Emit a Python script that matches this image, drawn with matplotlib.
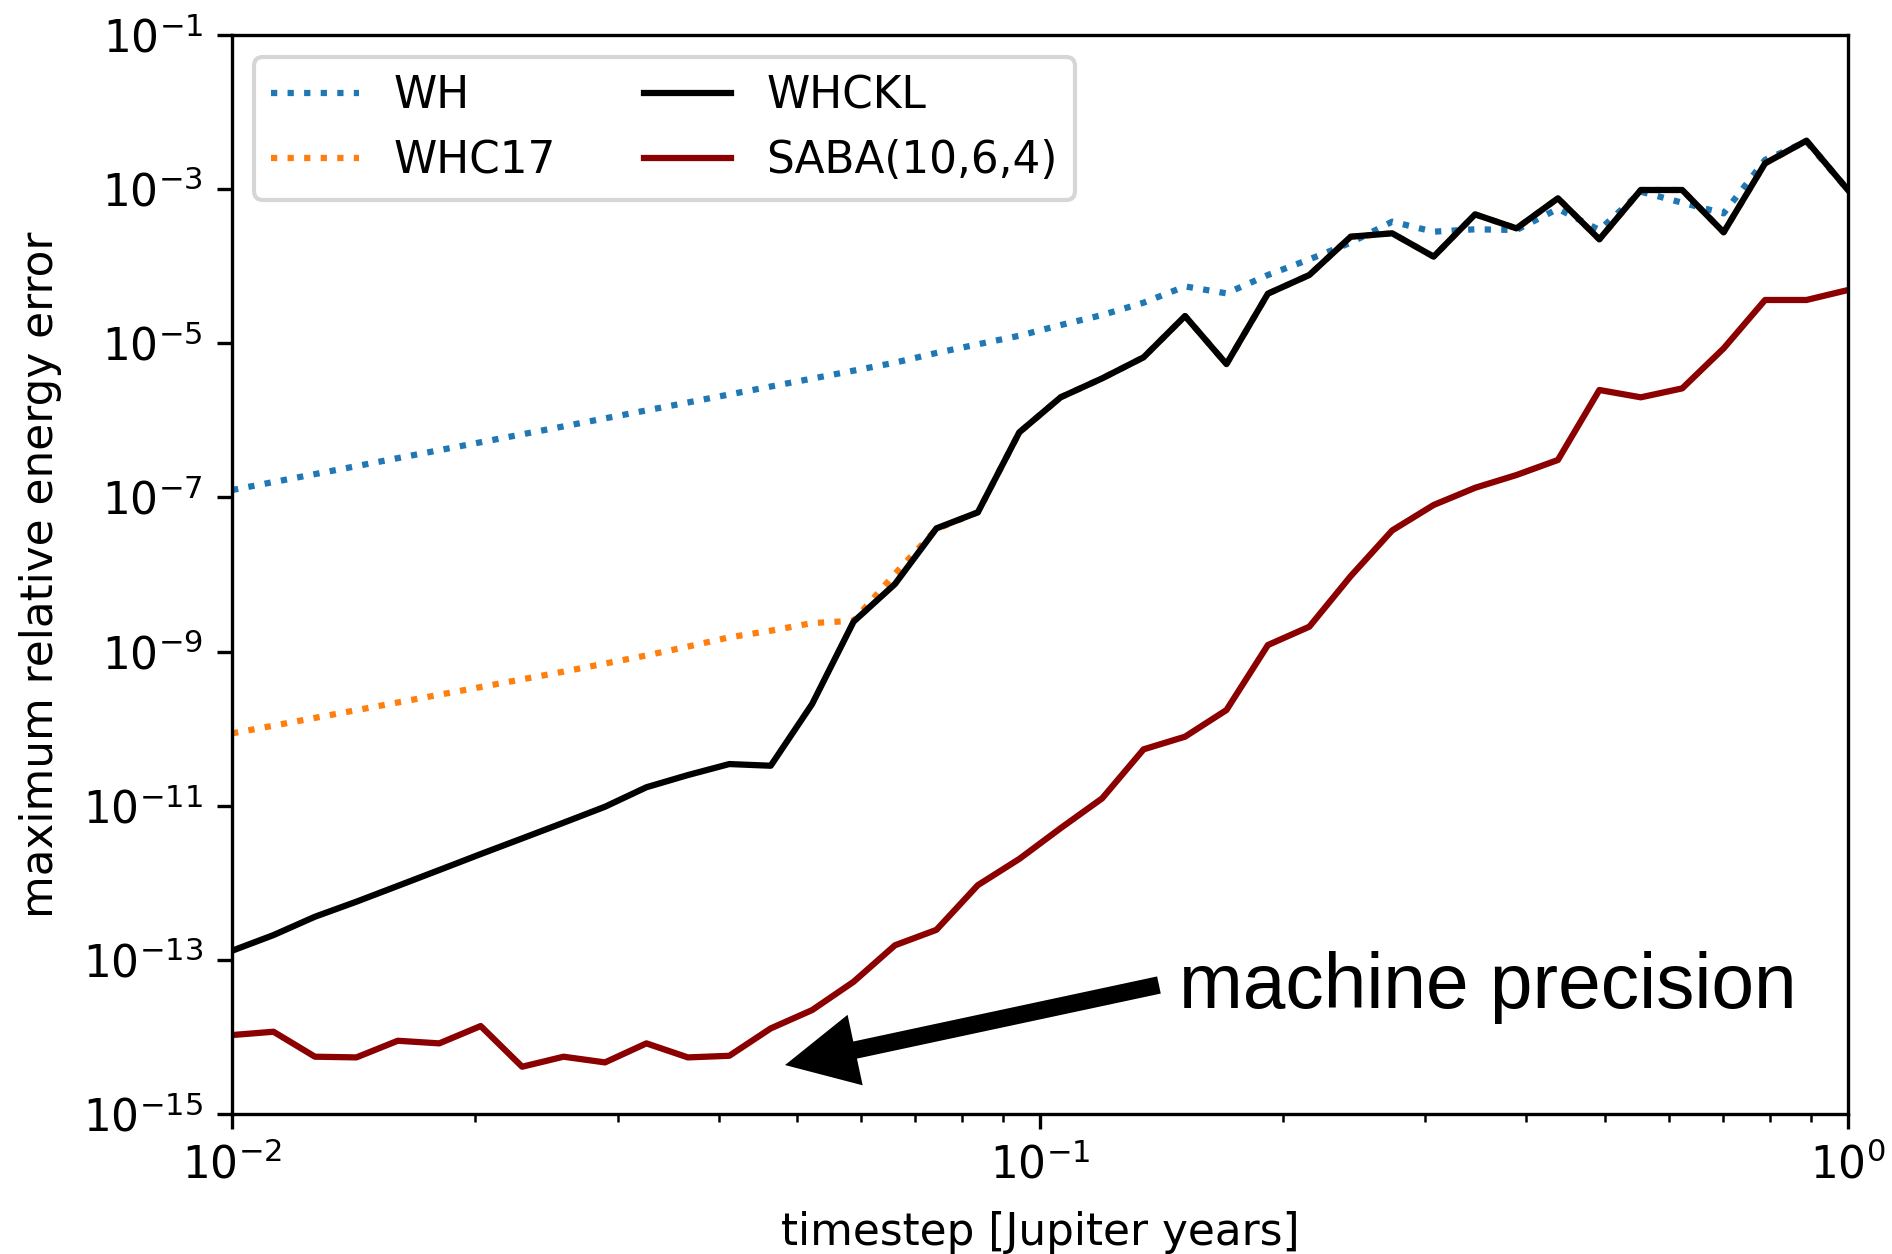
import numpy as np
import matplotlib
matplotlib.use("Agg")
import matplotlib.pyplot as plt
from matplotlib.ticker import FixedLocator, NullLocator

plt.rcParams["font.size"] = 10.5

# Timesteps in Jupiter years (40 log-spaced steps from 0.01 to 1)
timestep = [0.01, 0.011253, 0.012663, 0.014250, 0.016036, 0.018047, 0.020309,
            0.022855, 0.025719, 0.028943, 0.032571, 0.036654, 0.041249, 0.046416,
            0.052233, 0.058780, 0.066147, 0.074438, 0.083768, 0.094267, 0.10608,
            0.11938, 0.13434, 0.15118, 0.17013, 0.19145, 0.21544, 0.24245,
            0.27283, 0.30703, 0.34551, 0.38881, 0.43755, 0.49239, 0.55410,
            0.62355, 0.70170, 0.78966, 0.88862, 1.0]

# log10 of the maximum relative energy error for each integrator
log_err_wh = [-6.904, -6.800, -6.697, -6.594, -6.490, -6.387, -6.284, -6.181,
              -6.078, -5.974, -5.871, -5.768, -5.664, -5.561, -5.458, -5.355,
              -5.251, -5.125, -5.013, -4.902, -4.763, -4.633, -4.473, -4.262,
              -4.352, -4.114, -3.911, -3.695, -3.422, -3.552, -3.521, -3.530,
              -3.255, -3.530, -3.033, -3.176, -3.314, -2.620, -2.384, -3.011]

log_err_whc17 = [-10.061, -9.961, -9.860, -9.760, -9.660, -9.560, -9.460, -9.360,
                 -9.260, -9.155, -9.050, -8.935, -8.815, -8.729, -8.630, -8.600,
                 -7.990, -7.410, -7.193, -6.155, -5.700, -5.455, -5.182, -4.646,
                 -5.270, -4.356, -4.114, -3.617, -3.573, -3.876, -3.327, -3.509,
                 -3.119, -3.651, -3.011, -3.011, -3.560, -2.665, -2.371, -3.011]

log_err_whckl = [-12.881, -12.678, -12.440, -12.245, -12.040, -11.834, -11.627,
                 -11.424, -11.220, -11.013, -10.760, -10.602, -10.459, -10.481,
                 -9.680, -8.612, -8.123, -7.401, -7.193, -6.155, -5.700, -5.455,
                 -5.182, -4.646, -5.270, -4.356, -4.114, -3.617, -3.573, -3.876,
                 -3.327, -3.509, -3.119, -3.651, -3.011, -3.011, -3.560, -2.665,
                 -2.371, -3.011]

log_err_saba = [-13.975, -13.932, -14.256, -14.265, -14.049, -14.083, -13.858,
                -14.386, -14.256, -14.330, -14.083, -14.265, -14.244, -13.889,
                -13.651, -13.284, -12.810, -12.610, -12.030, -11.690, -11.290,
                -10.904, -10.268, -10.104, -9.758, -8.915, -8.677, -8.020,
                -7.428, -7.098, -6.875, -6.709, -6.514, -5.606, -5.701, -5.585,
                -5.066, -4.438, -4.438, -4.309]

series_labels = ["WH", "WHC17", "WHCKL", "SABA(10,6,4)"]
y_tick_exponents = [-15, -13, -11, -9, -7, -5, -3, -1]

fig = plt.figure(figsize=(18.93 / 3, 12.54 / 3), dpi=300)
ax = fig.add_axes([0.1226, 0.1116, 0.8536, 0.8605])

t = np.array(timestep)
ax.plot(t, 10.0 ** np.array(log_err_wh), ls=":", color="C0", lw=1.5, label=series_labels[0])
ax.plot(t, 10.0 ** np.array(log_err_whc17), ls=":", color="C1", lw=1.5, label=series_labels[1])
ax.plot(t, 10.0 ** np.array(log_err_whckl), ls="-", color="black", lw=1.5, label=series_labels[2])
ax.plot(t, 10.0 ** np.array(log_err_saba), ls="-", color="darkred", lw=1.5, label=series_labels[3])

ax.set_xscale("log")
ax.set_yscale("log")
ax.set_xlim(1e-2, 1.0)
ax.set_ylim(1e-15, 1e-1)
ax.yaxis.set_major_locator(FixedLocator([10.0 ** e for e in y_tick_exponents]))
ax.yaxis.set_minor_locator(NullLocator())

ax.set_xlabel("timestep [Jupiter years]", labelpad=5.5)
ax.set_ylabel("maximum relative energy error", labelpad=5.0)

ax.legend(ncol=2, loc="upper left")

# Annotation pointing at the round-off floor
ax.annotate("", xy=(0.3422, 0.0454), xytext=(0.5736, 0.1196),
            xycoords="axes fraction", textcoords="axes fraction",
            arrowprops=dict(facecolor="black", edgecolor="none", width=4.2,
                            headwidth=17.3, headlength=17.2, shrink=0.0))
ax.text(0.5863, 0.0982, "machine precision", transform=ax.transAxes,
        fontsize=18.4, family=["Liberation Sans", "DejaVu Sans"],
        ha="left", va="baseline")

fig.savefig("out.png", dpi=300)
